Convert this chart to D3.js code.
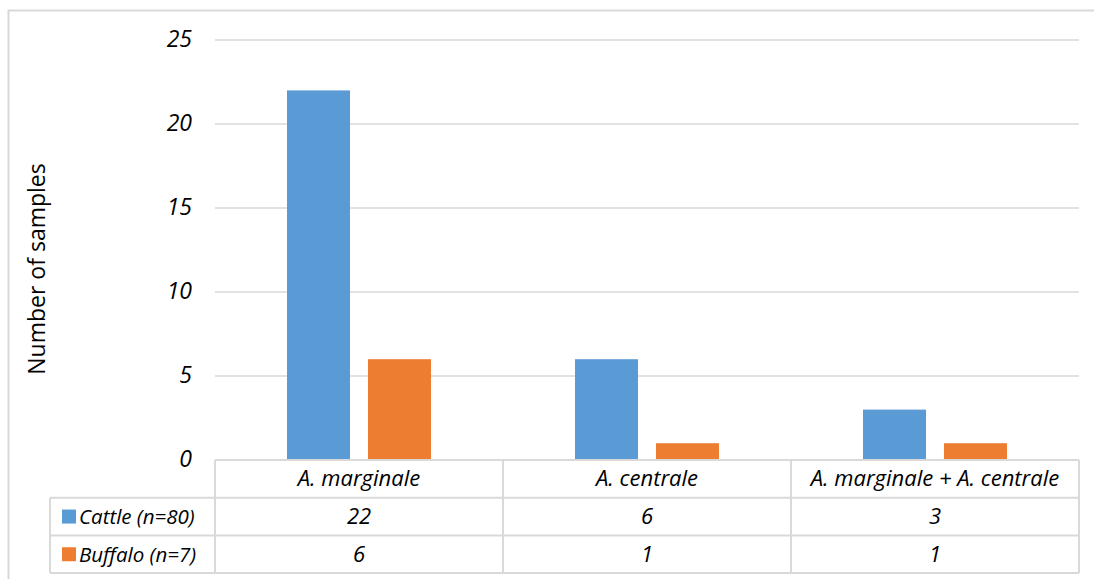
<!DOCTYPE html>
<html>
<head>
<meta charset="utf-8">
<script src="https://cdn.jsdelivr.net/npm/d3@7"></script>
<style>
  html, body { margin: 0; padding: 0; background: #fff; }
  svg { display: block; font-family: "Open Sans", "Liberation Sans", sans-serif; }
</style>
</head>
<body>
<svg id="chart" width="1094" height="579"></svg>
<script>
// Anaplasma detections by host species
const categories = ["A. marginale", "A. centrale", "A. marginale + A. centrale"];
const seriesNames = ["Cattle (n=80)", "Buffalo (n=7)"];
const cattleValues = [22, 6, 3];
const buffaloValues = [6, 1, 1];
const seriesColors = ["#5B9BD5", "#ED7D31"];
const yTicks = [0, 5, 10, 15, 20, 25];

const series = [cattleValues, buffaloValues];

const svg = d3.select("#chart");
const plotLeft = 215, plotRight = 1079, plotTop = 40, plotBottom = 460;
const rowH = 37.7;
const legendLeft = 50;
const fs = 22;

// outer chart frame
svg.append("path")
  .attr("d", "M8.5,579 V10.5 H1094")
  .attr("fill", "none").attr("stroke", "#D9D9D9").attr("stroke-width", 2);

const x = d3.scaleBand().domain(categories).range([plotLeft, plotRight]).paddingInner(0).paddingOuter(0);
const xs = d3.scaleBand().domain(d3.range(series.length)).range([0, x.bandwidth()]).paddingInner(0.222).paddingOuter(0.889);
const y = d3.scaleLinear().domain([0, 25]).range([plotBottom, plotTop]);

// gridlines
svg.append("g").selectAll("line").data(yTicks.slice(1)).join("line")
  .attr("x1", plotLeft).attr("x2", plotRight)
  .attr("y1", d => y(d)).attr("y2", d => y(d))
  .attr("stroke", "#D9D9D9").attr("stroke-width", 1.5);

// y axis labels
const yAxis = d3.axisLeft(y).tickValues(yTicks).tickSize(0).tickPadding(0);
const gy = svg.append("g").attr("transform", "translate(192,0)").call(yAxis);
gy.select(".domain").remove();
gy.selectAll("text")
  .attr("font-family", "'Open Sans', sans-serif")
  .attr("font-size", 23).attr("font-style", "italic").attr("fill", "#000")
  .attr("dy", "0.3em");

// axis title
svg.append("text")
  .attr("transform", `translate(45,${(plotTop + plotBottom) / 2 + 19}) rotate(-90)`)
  .attr("text-anchor", "middle")
  .attr("font-size", 23).attr("fill", "#000")
  .text("Number of samples");

// bars
series.forEach((vals, si) => {
  svg.append("g").selectAll("rect").data(vals).join("rect")
    .attr("x", (d, i) => x(categories[i]) + xs(si))
    .attr("width", xs.bandwidth())
    .attr("y", d => y(d))
    .attr("height", d => y(0) - y(d))
    .attr("fill", seriesColors[si]);
});

// data table
const tableColor = "#D9D9D9";
const tbl = svg.append("g");
const rowsY = [plotBottom, plotBottom + rowH, plotBottom + 2 * rowH, plotBottom + 3 * rowH];

// horizontal lines
tbl.append("line").attr("x1", plotLeft).attr("x2", plotRight).attr("y1", rowsY[0]).attr("y2", rowsY[0])
  .attr("stroke", tableColor).attr("stroke-width", 2);
rowsY.slice(1).forEach(ry => {
  tbl.append("line").attr("x1", legendLeft).attr("x2", plotRight).attr("y1", ry).attr("y2", ry)
    .attr("stroke", tableColor).attr("stroke-width", 2);
});
// vertical lines
tbl.append("line").attr("x1", legendLeft).attr("x2", legendLeft).attr("y1", rowsY[1]).attr("y2", rowsY[3])
  .attr("stroke", tableColor).attr("stroke-width", 2);
[plotLeft, ...categories.map(c => x(c) + x.bandwidth())].forEach(vx => {
  tbl.append("line").attr("x1", vx).attr("x2", vx).attr("y1", rowsY[0]).attr("y2", rowsY[3])
    .attr("stroke", tableColor).attr("stroke-width", 2);
});

// header
tbl.selectAll("text.cat").data(categories).join("text").attr("class", "cat")
  .attr("x", d => x(d) + x.bandwidth() / 2)
  .attr("y", rowsY[0] + rowH / 2 + 7.5)
  .attr("text-anchor", "middle").attr("font-size", fs).attr("font-style", "italic")
  .text(d => d);

// series rows
series.forEach((vals, si) => {
  const cy = rowsY[si + 1] + rowH / 2;
  tbl.append("rect").attr("x", 62).attr("y", cy - 7).attr("width", 14).attr("height", 14)
    .attr("fill", seriesColors[si]);
  tbl.append("text").attr("x", 79).attr("y", cy + 7.5)
    .attr("font-size", 20.5).attr("font-style", "italic").text(seriesNames[si]);
  tbl.selectAll(null).data(vals).join("text")
    .attr("x", (d, i) => x(categories[i]) + x.bandwidth() / 2)
    .attr("y", cy + 7.5)
    .attr("text-anchor", "middle").attr("font-size", fs).attr("font-style", "italic")
    .text(d => d);
});
</script>
</body>
</html>
